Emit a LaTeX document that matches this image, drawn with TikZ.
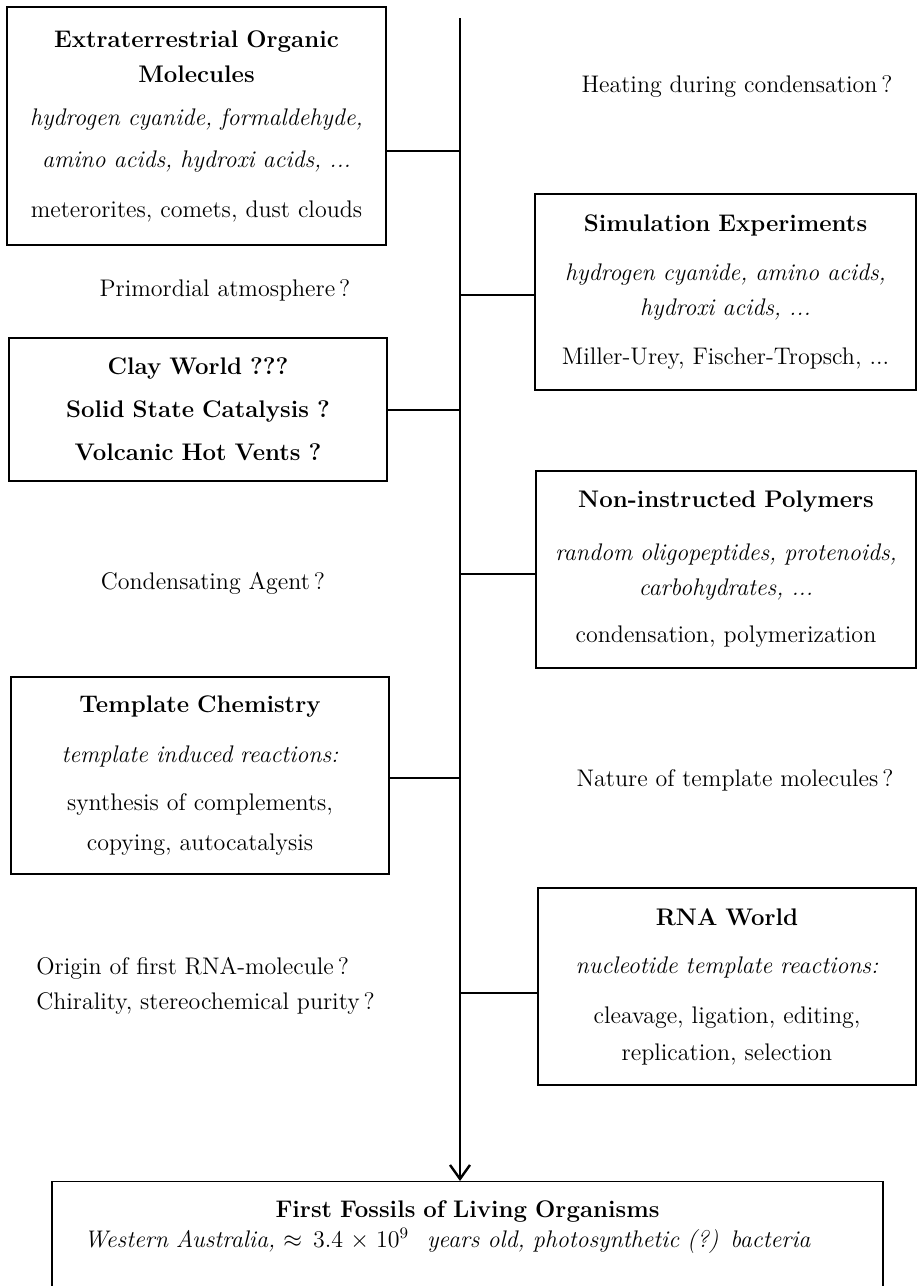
\documentclass[tikz,border=0pt]{standalone}
\usetikzlibrary{arrows.meta,calc}
\begin{document}
\begin{tikzpicture}[x=0.5pt,y=-0.5pt,
  txt/.style={font=\fontsize{12}{17.5}\selectfont, inner sep=0pt},
  box/.style={txt, draw, line width=0.7pt, align=center},
  conn/.style={line width=1.3pt},
  spine/.style={line width=0.8pt},
]
\useasboundingbox (0,0) rectangle (917,1286);
\clip (0,0) rectangle (917,1286);

% boxes
\node[box, minimum width=189.5pt, minimum height=119pt, text width=189.5pt] (b1) at (196.5,126)
 {\textbf{Extraterrestrial Organic}\\ \textbf{Molecules}\\[4pt]
  \textit{hydrogen cyanide, formaldehyde,}\\[3.5pt]
  \textit{amino acids, hydroxi acids, ...}\\[7.5pt]
  meterorites, comets, dust clouds};

\node[box, minimum width=190.5pt, minimum height=98pt, text width=190.5pt] (b2) at (725.5,292)
 {\textbf{Simulation Experiments}\\[7pt]
  \textit{hydrogen cyanide, amino acids,}\\
  \textit{hydroxi acids, ...}\\[7pt]
  Miller-Urey, Fischer-Tropsch, ...};

\node[box, minimum width=189pt, minimum height=71.5pt, text width=189pt] (b3) at (198,409.5)
 {\textbf{Clay World ???}\\[4pt]
  \textbf{Solid State Catalysis ?}\\[4pt]
  \textbf{Volcanic Hot Vents ?}};

\node[box, minimum width=190pt, minimum height=98.5pt, text width=190pt] (b4) at (726,569.5)
 {\textbf{Non-instructed Polymers}\\[9pt]
  \textit{random oligopeptides, protenoids,}\\
  \textit{carbohydrates, ...}\\[6pt]
  condensation, polymerization};

\node[box, minimum width=189pt, minimum height=98.5pt, text width=189pt] (b5) at (200,775.5)
 {\textbf{Template Chemistry}\\[7.5pt]
  \textit{template induced reactions:}\\[6.5pt]
  synthesis of complements,\\[2.5pt]
  copying, autocatalysis};

\node[box, minimum width=189pt, minimum height=98.5pt, text width=189pt] (b6) at (727,986.5)
 {\textbf{RNA World}\\[6.5pt]
  \textit{nucleotide template reactions:}\\[7.5pt]
  cleavage, ligation, editing,\\[1pt]
  replication, selection};

\node[box, anchor=north, minimum width=415.5pt, text width=415.5pt, inner ysep=9.5pt, text depth=80pt] (b7) at (467.5,1181)
 {\textbf{First Fossils of Living Organisms}\\[-2.5pt]
  \textit{Western Australia,} $\approx 3.4\times10^{9}$\hspace{5pt} \textit{years old, photosynthetic (?) bacteria}\rule{20pt}{0pt}};

% free labels
\node[txt] (q1) at (737,87) {Heating during condensation\,?};
\node[txt] (q2) at (225,290) {Primordial atmosphere\,?};
\node[txt] (q3) at (213,583) {Condensating Agent\,?};
\node[txt] (q4) at (735,780) {Nature of template molecules\,?};
\node[txt, align=left, anchor=west] (q5) at (36,985.5) {Origin of first RNA-molecule\,?\\ Chirality, stereochemical purity\,?};

% spine
\coordinate (top) at (460,18);
\draw[spine, -{Straight Barb[length=7pt,width=10pt,line width=1.2pt]}] (top) -- (top |- b7.north);

% junction points
\coordinate (j1) at (460,151);
\coordinate (j2) at (460,295);
\coordinate (j3) at (460,410);
\coordinate (j4) at (460,574);
\coordinate (j5) at (460,778);
\coordinate (j6) at (460,993);

\draw[conn] (j1 -| b1.east) -- (j1);
\draw[conn] (j2) -- (j2 -| b2.west);
\draw[conn] (j3 -| b3.east) -- (j3);
\draw[conn] (j4) -- (j4 -| b4.west);
\draw[conn] (j5 -| b5.east) -- (j5);
\draw[conn] (j6) -- (j6 -| b6.west);
\end{tikzpicture}
\end{document}
